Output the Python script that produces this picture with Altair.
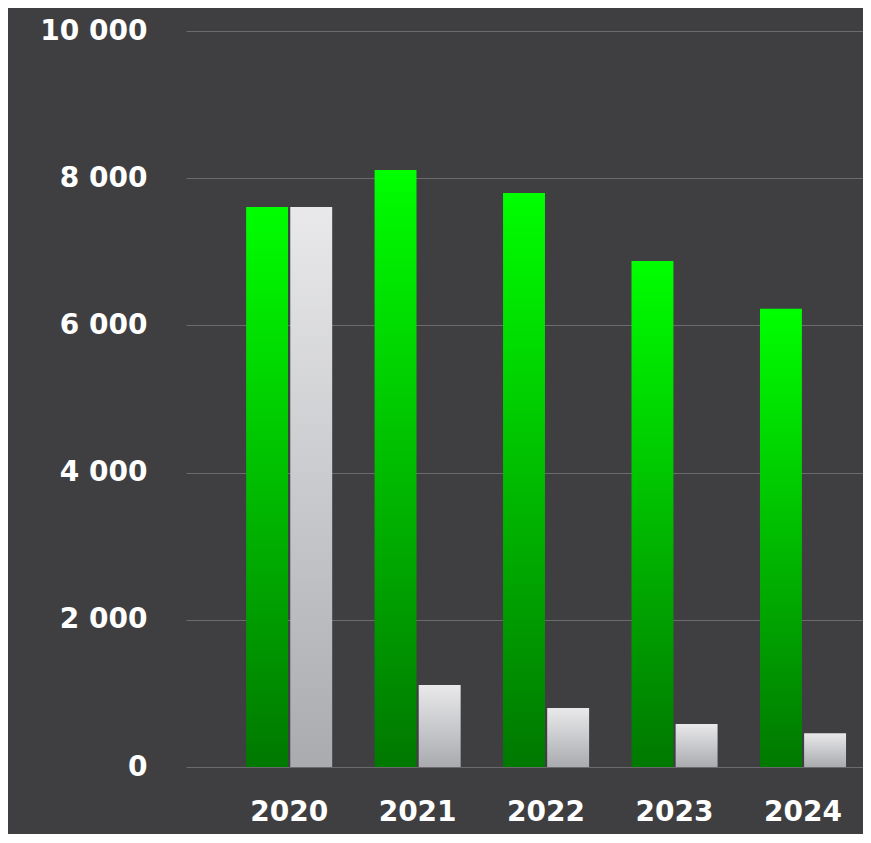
import altair as alt
import pandas as pd

years = ["2020", "2021", "2022", "2023", "2024"]
series_a = [7610, 8110, 7800, 6875, 6225]
series_b = [7610, 1115, 800, 585, 460]
y_ticks = [0, 2000, 4000, 6000, 8000, 10000]

rows = []
for yr, a, b in zip(years, series_a, series_b):
    rows.append({"year": yr, "series": "A", "value": a})
    rows.append({"year": yr, "series": "B", "value": b})
df = pd.DataFrame(rows)

FONT = "DejaVu Sans"

x_enc = alt.X(
    "year:N",
    sort=years,
    scale=alt.Scale(paddingInner=0.33, paddingOuter=0.30, align=0.78),
    axis=alt.Axis(
        title=None, labelAngle=0, domain=False, ticks=False, grid=False,
        labelFont=FONT, labelFontSize=28, labelFontWeight="bold",
        labelColor="#ffffff", labelPadding=31, labelBaseline="top",
    ),
)
y_enc = alt.Y(
    "value:Q",
    scale=alt.Scale(domain=[0, 10000], nice=False),
    axis=alt.Axis(
        title=None, values=y_ticks, domain=False, ticks=False,
        grid=True, gridColor="#6b6b6e", gridWidth=1, gridOpacity=1,
        labelFont=FONT, labelFontSize=28, labelFontWeight="bold",
        labelColor="#ffffff", labelPadding=39,
        labelExpr="replace(format(datum.value, ','), ',', ' ')",
    ),
)
xo = alt.XOffset("series:N", scale=alt.Scale(domain=["A", "B"], paddingInner=0.05))

green_grad = alt.Gradient(
    gradient="linear",
    stops=[alt.GradientStop(color="#00ff00", offset=0),
           alt.GradientStop(color="#007800", offset=1)],
    x1=1, x2=1, y1=0, y2=1,
)
gray_grad = alt.Gradient(
    gradient="linear",
    stops=[alt.GradientStop(color="#e9e9eb", offset=0),
           alt.GradientStop(color="#a9abaf", offset=1)],
    x1=1, x2=1, y1=0, y2=1,
)

base = alt.Chart(df)
bars_a = base.transform_filter(alt.datum.series == "A").mark_bar(color=green_grad).encode(
    x=x_enc, y=y_enc, xOffset=xo
)
bars_b = base.transform_filter(alt.datum.series == "B").mark_bar(color=gray_grad).encode(
    x=x_enc, y=y_enc, xOffset=xo
)

chart = alt.layer(bars_a, bars_b).properties(
    width=677,
    height=736,
    autosize=alt.AutoSizeParams(type="none"),
    padding={"left": 178, "top": 23, "right": 0, "bottom": 67},
    background="#3f3f42",
).configure_view(stroke=None)

chart.save("out.html", embed_options={"renderer": "svg", "actions": False})
